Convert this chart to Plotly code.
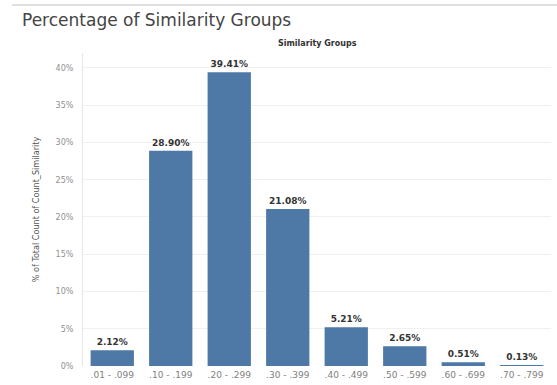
import plotly.graph_objects as go

categories = [".01 - .099", ".10 - .199", ".20 - .299", ".30 - .399", ".40 - .499", ".50 - .599", ".60 - .699", ".70 - .799"]
percentages = [2.12, 28.90, 39.41, 21.08, 5.21, 2.65, 0.51, 0.13]
y_ticks = [0, 5, 10, 15, 20, 25, 30, 35, 40]
y_tick_labels = [f"{v}%" for v in y_ticks]

fig = go.Figure()
fig.add_trace(go.Bar(
    x=categories,
    y=percentages,
    marker=dict(color="#4e78a6", line=dict(width=0)),
    text=[f"<b>{v:.2f}%</b>" for v in percentages],
    textposition="outside",
    cliponaxis=False,
    textfont=dict(family="DejaVu Sans", size=9, color="#333333"),
    width=0.74,
))

fig.update_layout(
    width=557, height=385,
    margin=dict(l=83, r=6, t=53, b=19),
    paper_bgcolor="white",
    plot_bgcolor="white",
    showlegend=False,
    font=dict(family="DejaVu Sans", color="#888888"),
    title=dict(
        text="Percentage of Similarity Groups",
        x=22/557, xanchor="left", xref="container",
        y=1-20/385, yanchor="middle", yref="container",
        font=dict(family="DejaVu Sans", size=17, color="#444444"),
    ),
    annotations=[dict(
        text="<b>Similarity Groups</b>",
        xref="paper", yref="paper",
        x=0.5, y=1 + (53-43)/313,
        xanchor="center", yanchor="middle",
        showarrow=False,
        font=dict(family="DejaVu Sans", size=8, color="#333333"),
    )],
    shapes=[dict(
        type="line", xref="paper", yref="paper",
        x0=-71/468, x1=6/468 + 1, y0=1 + 48/313, y1=1 + 48/313,
        line=dict(color="#e0e0e0", width=2),
    )],
    bargap=0.26,
)

fig.update_xaxes(
    showgrid=False, showline=False, zeroline=False,
    ticks="", tickfont=dict(family="DejaVu Sans", size=9, color="#808080"),
    ticklabelstandoff=2,
)
fig.update_yaxes(
    range=[0, 42],
    tickvals=y_ticks, ticktext=y_tick_labels,
    showgrid=True, gridcolor="#f0f0f0", gridwidth=1,
    showline=True, linecolor="#e6e6e6", linewidth=1,
    zeroline=False,
    ticks="", tickfont=dict(family="DejaVu Sans", size=8, color="#909090"),
    ticklabelstandoff=7,
    title=dict(
        text="% of Total Count of Count_Similarity",
        font=dict(family="Liberation Sans Narrow, DejaVu Sans Condensed", size=9, color="#555555"),
        standoff=14,
    ),
)

fig.write_html("out.html")
